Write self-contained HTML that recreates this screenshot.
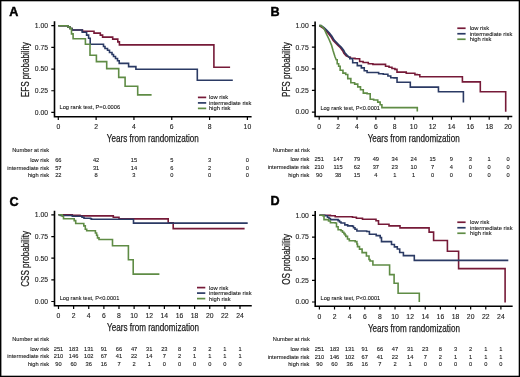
<!DOCTYPE html>
<html><head><meta charset="utf-8"><style>
html,body{margin:0;padding:0;background:#fff;}
svg{display:block;font-family:"Liberation Sans", sans-serif;}
text{stroke:#333;stroke-width:0.12px;paint-order:stroke;}
.t{stroke-width:0.25px;}
</style></head><body>
<svg width="520" height="377" viewBox="0 0 520 377">
<rect x="0" y="0" width="520" height="377" fill="#fff"/>
<path d="M54.5 21.2V116.7H251.6" fill="none" stroke="#000" stroke-width="1.6"/>
<path d="M51.3 112.4H54.5M51.3 90.73H54.5M51.3 69.05H54.5M51.3 47.38H54.5M51.3 25.7H54.5M58.3 116.7V120M96.12 116.7V120M133.94 116.7V120M171.76 116.7V120M209.58 116.7V120M247.4 116.7V120" fill="none" stroke="#000" stroke-width="1.2"/>
<path d="M197.9 97.4H206.2" stroke="#761a38" stroke-width="1.7"/>
<path d="M197.9 102.9H206.2" stroke="#2b3a64" stroke-width="1.7"/>
<path d="M197.9 108.4H206.2" stroke="#5f8c45" stroke-width="1.7"/>
<path d="M58.3,25.7 68,25.7 68,27 70,27 70,28.5 72,28.5 72,30 82.5,30 82.5,31.3 94,31.3 94,33.1 100.3,33.1 100.3,35.1 102.6,35.1 102.6,37.1 112.7,37.1 112.7,39.1 117.8,39.1 117.8,41.9 119.4,41.9 119.4,44.9 213.9,44.9 213.9,67.3 230.1,67.3" fill="none" stroke="#761a38" stroke-width="1.6" stroke-linejoin="miter"/>
<path d="M58.3,25.7 68,25.7 68,27 70,27 70,28.5 72,28.5 72,30 82.2,30 82.2,32.3 86.6,32.3 86.6,35.1 88.6,35.1 88.6,38.3 90.2,38.3 90.2,44.2 103.5,44.2 103.5,46.5 105,46.5 105,48.5 107.5,48.5 107.5,50.3 109.5,50.3 109.5,52.5 112,52.5 112,54.5 113.5,54.5 113.5,56.5 115.5,56.5 115.5,58.5 117.5,58.5 117.5,60.7 119.2,60.7 119.2,63.4 128.6,63.4 128.6,66.6 135.9,66.6 135.9,69.3 197.3,69.3 197.3,80.3 232.8,80.3" fill="none" stroke="#2b3a64" stroke-width="1.6" stroke-linejoin="miter"/>
<path d="M58.3,25.7 68,25.7 68,27 70,27 70,28.5 71.5,28.5 71.5,33.9 73.1,33.9 73.1,38.7 85.4,38.7 85.4,44.3 90,44.3 90,55.2 96.4,55.2 96.4,61.6 106.7,61.6 106.7,68.6 118.7,68.6 118.7,77.4 125.1,77.4 125.1,86.2 137.7,86.2 137.7,94.9 151.6,94.9" fill="none" stroke="#5f8c45" stroke-width="1.6" stroke-linejoin="miter"/>
<path d="M315.1 21.5V116.5H512.3" fill="none" stroke="#000" stroke-width="1.6"/>
<path d="M311.9 112.1H315.1M311.9 90.47H315.1M311.9 68.85H315.1M311.9 47.22H315.1M311.9 25.6H315.1M319.2 116.5V119.8M338.09 116.5V119.8M356.98 116.5V119.8M375.87 116.5V119.8M394.76 116.5V119.8M413.65 116.5V119.8M432.54 116.5V119.8M451.43 116.5V119.8M470.32 116.5V119.8M489.21 116.5V119.8M508.1 116.5V119.8" fill="none" stroke="#000" stroke-width="1.2"/>
<path d="M457.3 28.25H465.6" stroke="#761a38" stroke-width="1.7"/>
<path d="M457.3 33.75H465.6" stroke="#2b3a64" stroke-width="1.7"/>
<path d="M457.3 39.25H465.6" stroke="#5f8c45" stroke-width="1.7"/>
<path d="M319.2,25.6 320,26 323,28 325.6,30.4 328.4,33.4 330.9,36.7 333.2,40.5 335.6,43 338,45.4 340.4,47.8 342.8,50.9 343.9,53.2 346.2,55.8 349.2,57.3 350.35,57.3 350.35,58.3 351.5,58.3 355,58.3 355,58.7 358.5,58.7 359.65,58.7 359.65,61.5 360.8,61.5 363.1,61.5 363.1,62.5 365.4,62.5 368.3,62.5 368.3,63.8 371.2,63.8 372.9,63.8 372.9,64.4 374.6,64.4 383.8,64.4 385.55,64.4 385.55,66.2 387.3,66.2 389.05,66.2 389.05,67.3 390.8,67.3 391.95,67.3 391.95,68.5 393.1,68.5 394.9,68.5 394.9,69.4 396.7,69.4 397,69.4 397,72.1 397.3,72.1 406,72.1 406.25,72.1 406.25,73.2 406.5,73.2 414.6,73.2 414.9,73.2 414.9,74.6 415.2,74.6 417.2,74.6 417.2,74.8 419.2,74.8 419.8,74.8 419.8,76.8 420.4,76.8 462.4,76.8 462.4,81.9 480.3,81.9 480.3,91.8 505.7,91.8 505.7,111.7" fill="none" stroke="#761a38" stroke-width="1.6" stroke-linejoin="miter"/>
<path d="M319.2,25.6 321,25.6 324,27.6 326.6,30 329.4,33 331.9,36.3 334.2,40.1 336.6,42.6 339,45 341.4,47.4 343.8,50.5 344.9,52.8 347.2,55.4 349.2,57.3 349.8,57.3 349.8,58.7 350.4,58.7 352.7,58.7 352.7,62.7 355,62.7 357.3,62.7 357.3,65.6 359.6,65.6 361.35,65.6 361.35,67.9 363.1,67.9 364.25,67.9 364.25,70.8 365.4,70.8 367.1,70.8 367.1,72.5 368.8,72.5 376.9,72.5 378.65,72.5 378.65,73.7 380.4,73.7 383.3,73.7 383.3,74.2 386.2,74.2 387.9,74.2 387.9,76 389.6,76 390.75,76 390.75,77.7 391.9,77.7 394.05,77.7 394.05,77.9 396.2,77.9 397.05,77.9 397.05,82.3 397.9,82.3 410,82.3 410.3,82.3 410.3,87.1 410.6,87.1 438.3,87.1 438.45,87.1 438.45,91.8 438.6,91.8 463.4,91.8 463.4,102.6" fill="none" stroke="#2b3a64" stroke-width="1.6" stroke-linejoin="miter"/>
<path d="M319.2,25.6 321,25.6 324,28.4 326.4,33.9 329.1,39.5 331.5,45.1 333.1,50.7 334.9,56.5 336.2,59.8 337.2,59.8 337.2,63.8 338.2,63.8 338.65,63.8 338.65,66.2 339.1,66.2 340.15,66.2 340.15,70.3 341.2,70.3 342.95,70.3 342.95,73.1 344.7,73.1 345.7,73.1 345.7,74.5 346.7,74.5 347.75,74.5 347.75,78.6 348.8,78.6 350.85,78.6 350.85,82.8 352.9,82.8 354.65,82.8 354.65,84.1 356.4,84.1 357.75,84.1 357.75,86.9 359.1,86.9 360.5,86.9 360.5,89.7 361.9,89.7 363.3,89.7 363.3,93.1 364.7,93.1 367.1,93.1 367.1,93.8 369.5,93.8 370.2,93.8 370.2,99.3 370.9,99.3 373.65,99.3 373.65,100 376.4,100 377.75,100 377.75,102.1 379.1,102.1 380.15,102.1 380.15,104.8 381.2,104.8 381.9,104.8 381.9,107.6 382.6,107.6 417.3,107.6 417.3,111.5" fill="none" stroke="#5f8c45" stroke-width="1.6" stroke-linejoin="miter"/>
<path d="M54.5 210.7V305.7H251.76" fill="none" stroke="#000" stroke-width="1.6"/>
<path d="M51.3 301.5H54.5M51.3 279.85H54.5M51.3 258.2H54.5M51.3 236.55H54.5M51.3 214.9H54.5M58.5 305.7V309M73.62 305.7V309M88.75 305.7V309M103.88 305.7V309M119 305.7V309M134.12 305.7V309M149.25 305.7V309M164.38 305.7V309M179.5 305.7V309M194.62 305.7V309M209.75 305.7V309M224.88 305.7V309M240 305.7V309" fill="none" stroke="#000" stroke-width="1.2"/>
<path d="M197 287.6H205.3" stroke="#761a38" stroke-width="1.7"/>
<path d="M197 293.1H205.3" stroke="#2b3a64" stroke-width="1.7"/>
<path d="M197 298.6H205.3" stroke="#5f8c45" stroke-width="1.7"/>
<path d="M58.5,214.8 72.3,214.8 72.3,215.3 80,215.3 80,215.9 113.3,215.9 113.3,217.2 119,217.2 119,218.9 168.2,218.9 168.2,222.9 173.2,222.9 173.2,228.6 244.6,228.6" fill="none" stroke="#761a38" stroke-width="1.6" stroke-linejoin="miter"/>
<path d="M58.5,214.8 60.5,214.8 60.5,215.5 72.3,215.5 72.3,216.3 82,216.3 82,217.3 84,217.3 84,218.2 90.6,218.2 90.6,218.8 91.5,218.8 91.5,219.2 133.5,219.2 133.5,223.1 247.7,223.1" fill="none" stroke="#2b3a64" stroke-width="1.6" stroke-linejoin="miter"/>
<path d="M58.5,214.8 62.2,214.8 62.2,216.3 63.5,216.3 63.5,218.8 74.2,218.8 74.2,220.6 75.7,220.6 75.7,223.5 83.8,223.5 83.8,225.9 85.3,225.9 85.3,229.2 86.7,229.2 86.7,230.7 95.4,230.7 95.4,233 96.6,233 96.6,235.2 97.5,235.2 97.5,237.9 99,237.9 99,239.5 112.5,239.5 112.5,245.8 128.4,245.8 128.4,259.8 133.2,259.8 133.2,274.1 159.4,274.1" fill="none" stroke="#5f8c45" stroke-width="1.6" stroke-linejoin="miter"/>
<path d="M315.2 211V306.3H512.66" fill="none" stroke="#000" stroke-width="1.6"/>
<path d="M312 302H315.2M312 280.35H315.2M312 258.7H315.2M312 237.05H315.2M312 215.4H315.2M319.4 306.3V309.6M334.52 306.3V309.6M349.65 306.3V309.6M364.77 306.3V309.6M379.9 306.3V309.6M395.02 306.3V309.6M410.15 306.3V309.6M425.27 306.3V309.6M440.4 306.3V309.6M455.52 306.3V309.6M470.65 306.3V309.6M485.77 306.3V309.6M500.9 306.3V309.6" fill="none" stroke="#000" stroke-width="1.2"/>
<path d="M457.3 222.25H465.6" stroke="#761a38" stroke-width="1.7"/>
<path d="M457.3 227.75H465.6" stroke="#2b3a64" stroke-width="1.7"/>
<path d="M457.3 233.25H465.6" stroke="#5f8c45" stroke-width="1.7"/>
<path d="M319.4,215.3 330.4,215.3 330.4,215.8 335.2,215.8 335.2,216.7 352.5,216.7 352.5,217.2 356.4,217.2 356.4,218.2 362.5,218.2 362.5,219.2 376,219.2 376,220.8 378.5,220.8 378.5,224.3 389,224.3 389,225.9 400,225.9 400,227.9 429.1,227.9 429.1,232.1 433.6,232.1 433.6,240.5 447.4,240.5 447.4,251.2 458.6,251.2 458.6,268.6 505.1,268.6 505.1,302.4" fill="none" stroke="#761a38" stroke-width="1.6" stroke-linejoin="miter"/>
<path d="M319.4,215.3 324.7,215.3 324.7,215.8 327.5,215.8 327.5,217.2 329,217.2 329,218.5 330.4,218.5 330.4,219.6 338.1,219.6 338.1,220.6 339.5,220.6 339.5,222 341,222 341,223 344.8,223 344.8,224.9 347.7,224.9 347.7,225.9 352.5,225.9 352.5,226.3 353.5,226.3 353.5,227.8 355,227.8 355,229.3 356.9,229.3 356.9,231 366.7,231 366.7,231.5 369.4,231.5 369.4,234.2 376.2,234.2 376.2,235.6 380.2,235.6 380.2,237.6 381.5,237.6 381.5,241.6 391.5,241.6 391.5,244.5 394.4,244.5 394.4,246.9 397.3,246.9 397.3,249 399.7,249 399.7,252.5 403.4,252.5 403.4,255.6 414.3,255.6 414.3,260.4 508.3,260.4" fill="none" stroke="#2b3a64" stroke-width="1.6" stroke-linejoin="miter"/>
<path d="M319.4,215.3 322.7,215.3 322.7,215.8 324,215.8 324,219.6 328.5,219.6 328.5,221 330.4,221 330.4,222.8 335.2,222.8 335.2,223 336.5,223 336.5,226.8 338.1,226.8 338.1,229.7 341,229.7 341,230.7 342.5,230.7 342.5,232.2 343.9,232.2 343.9,233.6 345,233.6 345,235 345.8,235 345.8,236.4 347.5,236.4 347.5,239 349.3,239 349.3,240.7 355.2,240.7 355.2,241.6 356.9,241.6 356.9,244 357.5,244 357.5,246.6 359.5,246.6 359.5,249.1 362.1,249.1 362.1,252.6 366.4,252.6 366.4,256 369,256 369,259.5 370,259.5 370,261 372.9,261 372.9,265 389.6,265 389.6,274.6 394.1,274.6 394.1,283.2 398.1,283.2 398.1,293.2 419.3,293.2 419.3,302.1" fill="none" stroke="#5f8c45" stroke-width="1.6" stroke-linejoin="miter"/>
<rect x="0" y="0" width="520" height="1.3" fill="#000"/><rect x="0" y="375.7" width="520" height="1.3" fill="#000"/><rect x="0" y="0" width="1.4" height="377" fill="#000"/><rect x="518.7" y="0" width="1.3" height="377" fill="#000"/>
<g style="filter:grayscale(1)">
<text x="9.2" y="15.7" font-size="12.6" font-weight="bold" fill="#000" style="stroke:#000;stroke-width:0.45px">A</text>
<text x="48.1" y="114.7" font-size="6.8" text-anchor="end" fill="#1a1a1a">0.00</text>
<text x="48.1" y="93.03" font-size="6.8" text-anchor="end" fill="#1a1a1a">0.25</text>
<text x="48.1" y="71.35" font-size="6.8" text-anchor="end" fill="#1a1a1a">0.50</text>
<text x="48.1" y="49.67" font-size="6.8" text-anchor="end" fill="#1a1a1a">0.75</text>
<text x="48.1" y="28" font-size="6.8" text-anchor="end" fill="#1a1a1a">1.00</text>
<text x="58.3" y="128.9" font-size="6.8" text-anchor="middle" fill="#1a1a1a">0</text>
<text x="96.12" y="128.9" font-size="6.8" text-anchor="middle" fill="#1a1a1a">2</text>
<text x="133.94" y="128.9" font-size="6.8" text-anchor="middle" fill="#1a1a1a">4</text>
<text x="171.76" y="128.9" font-size="6.8" text-anchor="middle" fill="#1a1a1a">6</text>
<text x="209.58" y="128.9" font-size="6.8" text-anchor="middle" fill="#1a1a1a">8</text>
<text x="247.4" y="128.9" font-size="6.8" text-anchor="middle" fill="#1a1a1a">10</text>
<text x="152.85" y="142.2" font-size="10.2" text-anchor="middle" textLength="92" lengthAdjust="spacingAndGlyphs" fill="#1a1a1a" class="t">Years from randomization</text>
<text transform="translate(28.8 69.75) rotate(-90)" x="0" y="0" font-size="10.2" text-anchor="middle" textLength="54.92" lengthAdjust="spacingAndGlyphs" fill="#1a1a1a" class="t">EFS probability</text>
<text x="59.5" y="108.7" font-size="5.7" textLength="60.6" lengthAdjust="spacingAndGlyphs" fill="#1a1a1a">Log rank test, P=0.0006</text>
<text x="208.9" y="99.3" font-size="5.8" fill="#1a1a1a">low risk</text>
<text x="208.9" y="104.8" font-size="5.8" fill="#1a1a1a">intermediate risk</text>
<text x="208.9" y="110.3" font-size="5.8" fill="#1a1a1a">high risk</text>
<text x="12.2" y="152.2" font-size="5.7" fill="#1a1a1a">Number at risk</text>
<text x="49.1" y="161.8" font-size="5.7" text-anchor="end" fill="#1a1a1a">low risk</text>
<text x="58.3" y="161.8" font-size="5.7" text-anchor="middle" fill="#1a1a1a">66</text>
<text x="96.12" y="161.8" font-size="5.7" text-anchor="middle" fill="#1a1a1a">42</text>
<text x="133.94" y="161.8" font-size="5.7" text-anchor="middle" fill="#1a1a1a">15</text>
<text x="171.76" y="161.8" font-size="5.7" text-anchor="middle" fill="#1a1a1a">5</text>
<text x="209.58" y="161.8" font-size="5.7" text-anchor="middle" fill="#1a1a1a">3</text>
<text x="247.4" y="161.8" font-size="5.7" text-anchor="middle" fill="#1a1a1a">0</text>
<text x="49.1" y="169.5" font-size="5.7" text-anchor="end" fill="#1a1a1a">intermediate risk</text>
<text x="58.3" y="169.5" font-size="5.7" text-anchor="middle" fill="#1a1a1a">57</text>
<text x="96.12" y="169.5" font-size="5.7" text-anchor="middle" fill="#1a1a1a">31</text>
<text x="133.94" y="169.5" font-size="5.7" text-anchor="middle" fill="#1a1a1a">14</text>
<text x="171.76" y="169.5" font-size="5.7" text-anchor="middle" fill="#1a1a1a">6</text>
<text x="209.58" y="169.5" font-size="5.7" text-anchor="middle" fill="#1a1a1a">2</text>
<text x="247.4" y="169.5" font-size="5.7" text-anchor="middle" fill="#1a1a1a">0</text>
<text x="49.1" y="177.2" font-size="5.7" text-anchor="end" fill="#1a1a1a">high risk</text>
<text x="58.3" y="177.2" font-size="5.7" text-anchor="middle" fill="#1a1a1a">22</text>
<text x="96.12" y="177.2" font-size="5.7" text-anchor="middle" fill="#1a1a1a">8</text>
<text x="133.94" y="177.2" font-size="5.7" text-anchor="middle" fill="#1a1a1a">3</text>
<text x="171.76" y="177.2" font-size="5.7" text-anchor="middle" fill="#1a1a1a">0</text>
<text x="209.58" y="177.2" font-size="5.7" text-anchor="middle" fill="#1a1a1a">0</text>
<text x="247.4" y="177.2" font-size="5.7" text-anchor="middle" fill="#1a1a1a">0</text>
<text x="270.5" y="15.6" font-size="12.6" font-weight="bold" fill="#000" style="stroke:#000;stroke-width:0.45px">B</text>
<text x="308.7" y="114.4" font-size="6.8" text-anchor="end" fill="#1a1a1a">0.00</text>
<text x="308.7" y="92.77" font-size="6.8" text-anchor="end" fill="#1a1a1a">0.25</text>
<text x="308.7" y="71.15" font-size="6.8" text-anchor="end" fill="#1a1a1a">0.50</text>
<text x="308.7" y="49.52" font-size="6.8" text-anchor="end" fill="#1a1a1a">0.75</text>
<text x="308.7" y="27.9" font-size="6.8" text-anchor="end" fill="#1a1a1a">1.00</text>
<text x="319.2" y="128.7" font-size="6.8" text-anchor="middle" fill="#1a1a1a">0</text>
<text x="338.09" y="128.7" font-size="6.8" text-anchor="middle" fill="#1a1a1a">2</text>
<text x="356.98" y="128.7" font-size="6.8" text-anchor="middle" fill="#1a1a1a">4</text>
<text x="375.87" y="128.7" font-size="6.8" text-anchor="middle" fill="#1a1a1a">6</text>
<text x="394.76" y="128.7" font-size="6.8" text-anchor="middle" fill="#1a1a1a">8</text>
<text x="413.65" y="128.7" font-size="6.8" text-anchor="middle" fill="#1a1a1a">10</text>
<text x="432.54" y="128.7" font-size="6.8" text-anchor="middle" fill="#1a1a1a">12</text>
<text x="451.43" y="128.7" font-size="6.8" text-anchor="middle" fill="#1a1a1a">14</text>
<text x="470.32" y="128.7" font-size="6.8" text-anchor="middle" fill="#1a1a1a">16</text>
<text x="489.21" y="128.7" font-size="6.8" text-anchor="middle" fill="#1a1a1a">18</text>
<text x="508.1" y="128.7" font-size="6.8" text-anchor="middle" fill="#1a1a1a">20</text>
<text x="413.65" y="142" font-size="10.2" text-anchor="middle" textLength="92" lengthAdjust="spacingAndGlyphs" fill="#1a1a1a" class="t">Years from randomization</text>
<text transform="translate(290.1 69.55) rotate(-90)" x="0" y="0" font-size="10.2" text-anchor="middle" textLength="54.92" lengthAdjust="spacingAndGlyphs" fill="#1a1a1a" class="t">PFS probability</text>
<text x="320.4" y="110.2" font-size="5.7" textLength="59.6" lengthAdjust="spacingAndGlyphs" fill="#1a1a1a">Log rank test, P&lt;0.0001</text>
<text x="469.8" y="30.15" font-size="5.8" fill="#1a1a1a">low risk</text>
<text x="469.8" y="35.65" font-size="5.8" fill="#1a1a1a">intermediate risk</text>
<text x="469.8" y="41.15" font-size="5.8" fill="#1a1a1a">high risk</text>
<text x="272.8" y="151.7" font-size="5.7" fill="#1a1a1a">Number at risk</text>
<text x="309.4" y="161.3" font-size="5.7" text-anchor="end" fill="#1a1a1a">low risk</text>
<text x="319.2" y="161.3" font-size="5.7" text-anchor="middle" fill="#1a1a1a">251</text>
<text x="338.09" y="161.3" font-size="5.7" text-anchor="middle" fill="#1a1a1a">147</text>
<text x="356.98" y="161.3" font-size="5.7" text-anchor="middle" fill="#1a1a1a">79</text>
<text x="375.87" y="161.3" font-size="5.7" text-anchor="middle" fill="#1a1a1a">49</text>
<text x="394.76" y="161.3" font-size="5.7" text-anchor="middle" fill="#1a1a1a">34</text>
<text x="413.65" y="161.3" font-size="5.7" text-anchor="middle" fill="#1a1a1a">24</text>
<text x="432.54" y="161.3" font-size="5.7" text-anchor="middle" fill="#1a1a1a">15</text>
<text x="451.43" y="161.3" font-size="5.7" text-anchor="middle" fill="#1a1a1a">9</text>
<text x="470.32" y="161.3" font-size="5.7" text-anchor="middle" fill="#1a1a1a">3</text>
<text x="489.21" y="161.3" font-size="5.7" text-anchor="middle" fill="#1a1a1a">1</text>
<text x="508.1" y="161.3" font-size="5.7" text-anchor="middle" fill="#1a1a1a">0</text>
<text x="309.4" y="169" font-size="5.7" text-anchor="end" fill="#1a1a1a">intermediate risk</text>
<text x="319.2" y="169" font-size="5.7" text-anchor="middle" fill="#1a1a1a">210</text>
<text x="338.09" y="169" font-size="5.7" text-anchor="middle" fill="#1a1a1a">115</text>
<text x="356.98" y="169" font-size="5.7" text-anchor="middle" fill="#1a1a1a">62</text>
<text x="375.87" y="169" font-size="5.7" text-anchor="middle" fill="#1a1a1a">37</text>
<text x="394.76" y="169" font-size="5.7" text-anchor="middle" fill="#1a1a1a">23</text>
<text x="413.65" y="169" font-size="5.7" text-anchor="middle" fill="#1a1a1a">10</text>
<text x="432.54" y="169" font-size="5.7" text-anchor="middle" fill="#1a1a1a">7</text>
<text x="451.43" y="169" font-size="5.7" text-anchor="middle" fill="#1a1a1a">4</text>
<text x="470.32" y="169" font-size="5.7" text-anchor="middle" fill="#1a1a1a">0</text>
<text x="489.21" y="169" font-size="5.7" text-anchor="middle" fill="#1a1a1a">0</text>
<text x="508.1" y="169" font-size="5.7" text-anchor="middle" fill="#1a1a1a">0</text>
<text x="309.4" y="176.7" font-size="5.7" text-anchor="end" fill="#1a1a1a">high risk</text>
<text x="319.2" y="176.7" font-size="5.7" text-anchor="middle" fill="#1a1a1a">90</text>
<text x="338.09" y="176.7" font-size="5.7" text-anchor="middle" fill="#1a1a1a">38</text>
<text x="356.98" y="176.7" font-size="5.7" text-anchor="middle" fill="#1a1a1a">15</text>
<text x="375.87" y="176.7" font-size="5.7" text-anchor="middle" fill="#1a1a1a">4</text>
<text x="394.76" y="176.7" font-size="5.7" text-anchor="middle" fill="#1a1a1a">1</text>
<text x="413.65" y="176.7" font-size="5.7" text-anchor="middle" fill="#1a1a1a">1</text>
<text x="432.54" y="176.7" font-size="5.7" text-anchor="middle" fill="#1a1a1a">0</text>
<text x="451.43" y="176.7" font-size="5.7" text-anchor="middle" fill="#1a1a1a">0</text>
<text x="470.32" y="176.7" font-size="5.7" text-anchor="middle" fill="#1a1a1a">0</text>
<text x="489.21" y="176.7" font-size="5.7" text-anchor="middle" fill="#1a1a1a">0</text>
<text x="508.1" y="176.7" font-size="5.7" text-anchor="middle" fill="#1a1a1a">0</text>
<text x="9.6" y="205.5" font-size="12.6" font-weight="bold" fill="#000" style="stroke:#000;stroke-width:0.45px">C</text>
<text x="48.1" y="303.8" font-size="6.8" text-anchor="end" fill="#1a1a1a">0.00</text>
<text x="48.1" y="282.15" font-size="6.8" text-anchor="end" fill="#1a1a1a">0.25</text>
<text x="48.1" y="260.5" font-size="6.8" text-anchor="end" fill="#1a1a1a">0.50</text>
<text x="48.1" y="238.85" font-size="6.8" text-anchor="end" fill="#1a1a1a">0.75</text>
<text x="48.1" y="217.2" font-size="6.8" text-anchor="end" fill="#1a1a1a">1.00</text>
<text x="58.5" y="317.9" font-size="6.8" text-anchor="middle" fill="#1a1a1a">0</text>
<text x="73.62" y="317.9" font-size="6.8" text-anchor="middle" fill="#1a1a1a">2</text>
<text x="88.75" y="317.9" font-size="6.8" text-anchor="middle" fill="#1a1a1a">4</text>
<text x="103.88" y="317.9" font-size="6.8" text-anchor="middle" fill="#1a1a1a">6</text>
<text x="119" y="317.9" font-size="6.8" text-anchor="middle" fill="#1a1a1a">8</text>
<text x="134.12" y="317.9" font-size="6.8" text-anchor="middle" fill="#1a1a1a">10</text>
<text x="149.25" y="317.9" font-size="6.8" text-anchor="middle" fill="#1a1a1a">12</text>
<text x="164.38" y="317.9" font-size="6.8" text-anchor="middle" fill="#1a1a1a">14</text>
<text x="179.5" y="317.9" font-size="6.8" text-anchor="middle" fill="#1a1a1a">16</text>
<text x="194.62" y="317.9" font-size="6.8" text-anchor="middle" fill="#1a1a1a">18</text>
<text x="209.75" y="317.9" font-size="6.8" text-anchor="middle" fill="#1a1a1a">20</text>
<text x="224.88" y="317.9" font-size="6.8" text-anchor="middle" fill="#1a1a1a">22</text>
<text x="240" y="317.9" font-size="6.8" text-anchor="middle" fill="#1a1a1a">24</text>
<text x="153.03" y="331.2" font-size="10.2" text-anchor="middle" textLength="92" lengthAdjust="spacingAndGlyphs" fill="#1a1a1a" class="t">Years from randomization</text>
<text transform="translate(29 258.9) rotate(-90)" x="0" y="0" font-size="10.2" text-anchor="middle" textLength="55.83" lengthAdjust="spacingAndGlyphs" fill="#1a1a1a" class="t">CSS probability</text>
<text x="59.7" y="299.5" font-size="5.7" textLength="59.6" lengthAdjust="spacingAndGlyphs" fill="#1a1a1a">Log rank test, P&lt;0.0001</text>
<text x="209" y="289.5" font-size="5.8" fill="#1a1a1a">low risk</text>
<text x="209" y="295" font-size="5.8" fill="#1a1a1a">intermediate risk</text>
<text x="209" y="300.5" font-size="5.8" fill="#1a1a1a">high risk</text>
<text x="12.2" y="341.1" font-size="5.7" fill="#1a1a1a">Number at risk</text>
<text x="49.1" y="350.7" font-size="5.7" text-anchor="end" fill="#1a1a1a">low risk</text>
<text x="58.5" y="350.7" font-size="5.7" text-anchor="middle" fill="#1a1a1a">251</text>
<text x="73.62" y="350.7" font-size="5.7" text-anchor="middle" fill="#1a1a1a">183</text>
<text x="88.75" y="350.7" font-size="5.7" text-anchor="middle" fill="#1a1a1a">131</text>
<text x="103.88" y="350.7" font-size="5.7" text-anchor="middle" fill="#1a1a1a">91</text>
<text x="119" y="350.7" font-size="5.7" text-anchor="middle" fill="#1a1a1a">66</text>
<text x="134.12" y="350.7" font-size="5.7" text-anchor="middle" fill="#1a1a1a">47</text>
<text x="149.25" y="350.7" font-size="5.7" text-anchor="middle" fill="#1a1a1a">31</text>
<text x="164.38" y="350.7" font-size="5.7" text-anchor="middle" fill="#1a1a1a">23</text>
<text x="179.5" y="350.7" font-size="5.7" text-anchor="middle" fill="#1a1a1a">8</text>
<text x="194.62" y="350.7" font-size="5.7" text-anchor="middle" fill="#1a1a1a">3</text>
<text x="209.75" y="350.7" font-size="5.7" text-anchor="middle" fill="#1a1a1a">2</text>
<text x="224.88" y="350.7" font-size="5.7" text-anchor="middle" fill="#1a1a1a">1</text>
<text x="240" y="350.7" font-size="5.7" text-anchor="middle" fill="#1a1a1a">1</text>
<text x="49.1" y="358.4" font-size="5.7" text-anchor="end" fill="#1a1a1a">intermediate risk</text>
<text x="58.5" y="358.4" font-size="5.7" text-anchor="middle" fill="#1a1a1a">210</text>
<text x="73.62" y="358.4" font-size="5.7" text-anchor="middle" fill="#1a1a1a">146</text>
<text x="88.75" y="358.4" font-size="5.7" text-anchor="middle" fill="#1a1a1a">102</text>
<text x="103.88" y="358.4" font-size="5.7" text-anchor="middle" fill="#1a1a1a">67</text>
<text x="119" y="358.4" font-size="5.7" text-anchor="middle" fill="#1a1a1a">41</text>
<text x="134.12" y="358.4" font-size="5.7" text-anchor="middle" fill="#1a1a1a">22</text>
<text x="149.25" y="358.4" font-size="5.7" text-anchor="middle" fill="#1a1a1a">14</text>
<text x="164.38" y="358.4" font-size="5.7" text-anchor="middle" fill="#1a1a1a">7</text>
<text x="179.5" y="358.4" font-size="5.7" text-anchor="middle" fill="#1a1a1a">2</text>
<text x="194.62" y="358.4" font-size="5.7" text-anchor="middle" fill="#1a1a1a">1</text>
<text x="209.75" y="358.4" font-size="5.7" text-anchor="middle" fill="#1a1a1a">1</text>
<text x="224.88" y="358.4" font-size="5.7" text-anchor="middle" fill="#1a1a1a">1</text>
<text x="240" y="358.4" font-size="5.7" text-anchor="middle" fill="#1a1a1a">1</text>
<text x="49.1" y="366.1" font-size="5.7" text-anchor="end" fill="#1a1a1a">high risk</text>
<text x="58.5" y="366.1" font-size="5.7" text-anchor="middle" fill="#1a1a1a">90</text>
<text x="73.62" y="366.1" font-size="5.7" text-anchor="middle" fill="#1a1a1a">60</text>
<text x="88.75" y="366.1" font-size="5.7" text-anchor="middle" fill="#1a1a1a">36</text>
<text x="103.88" y="366.1" font-size="5.7" text-anchor="middle" fill="#1a1a1a">16</text>
<text x="119" y="366.1" font-size="5.7" text-anchor="middle" fill="#1a1a1a">7</text>
<text x="134.12" y="366.1" font-size="5.7" text-anchor="middle" fill="#1a1a1a">2</text>
<text x="149.25" y="366.1" font-size="5.7" text-anchor="middle" fill="#1a1a1a">1</text>
<text x="164.38" y="366.1" font-size="5.7" text-anchor="middle" fill="#1a1a1a">0</text>
<text x="179.5" y="366.1" font-size="5.7" text-anchor="middle" fill="#1a1a1a">0</text>
<text x="194.62" y="366.1" font-size="5.7" text-anchor="middle" fill="#1a1a1a">0</text>
<text x="209.75" y="366.1" font-size="5.7" text-anchor="middle" fill="#1a1a1a">0</text>
<text x="224.88" y="366.1" font-size="5.7" text-anchor="middle" fill="#1a1a1a">0</text>
<text x="240" y="366.1" font-size="5.7" text-anchor="middle" fill="#1a1a1a">0</text>
<text x="270.5" y="205.4" font-size="12.6" font-weight="bold" fill="#000" style="stroke:#000;stroke-width:0.45px">D</text>
<text x="308.8" y="304.3" font-size="6.8" text-anchor="end" fill="#1a1a1a">0.00</text>
<text x="308.8" y="282.65" font-size="6.8" text-anchor="end" fill="#1a1a1a">0.25</text>
<text x="308.8" y="261" font-size="6.8" text-anchor="end" fill="#1a1a1a">0.50</text>
<text x="308.8" y="239.35" font-size="6.8" text-anchor="end" fill="#1a1a1a">0.75</text>
<text x="308.8" y="217.7" font-size="6.8" text-anchor="end" fill="#1a1a1a">1.00</text>
<text x="319.4" y="318.5" font-size="6.8" text-anchor="middle" fill="#1a1a1a">0</text>
<text x="334.52" y="318.5" font-size="6.8" text-anchor="middle" fill="#1a1a1a">2</text>
<text x="349.65" y="318.5" font-size="6.8" text-anchor="middle" fill="#1a1a1a">4</text>
<text x="364.77" y="318.5" font-size="6.8" text-anchor="middle" fill="#1a1a1a">6</text>
<text x="379.9" y="318.5" font-size="6.8" text-anchor="middle" fill="#1a1a1a">8</text>
<text x="395.02" y="318.5" font-size="6.8" text-anchor="middle" fill="#1a1a1a">10</text>
<text x="410.15" y="318.5" font-size="6.8" text-anchor="middle" fill="#1a1a1a">12</text>
<text x="425.27" y="318.5" font-size="6.8" text-anchor="middle" fill="#1a1a1a">14</text>
<text x="440.4" y="318.5" font-size="6.8" text-anchor="middle" fill="#1a1a1a">16</text>
<text x="455.52" y="318.5" font-size="6.8" text-anchor="middle" fill="#1a1a1a">18</text>
<text x="470.65" y="318.5" font-size="6.8" text-anchor="middle" fill="#1a1a1a">20</text>
<text x="485.77" y="318.5" font-size="6.8" text-anchor="middle" fill="#1a1a1a">22</text>
<text x="500.9" y="318.5" font-size="6.8" text-anchor="middle" fill="#1a1a1a">24</text>
<text x="413.93" y="331.8" font-size="10.2" text-anchor="middle" textLength="92" lengthAdjust="spacingAndGlyphs" fill="#1a1a1a" class="t">Years from randomization</text>
<text transform="translate(290.3 259.4) rotate(-90)" x="0" y="0" font-size="10.2" text-anchor="middle" textLength="50.87" lengthAdjust="spacingAndGlyphs" fill="#1a1a1a" class="t">OS probability</text>
<text x="320.6" y="300.1" font-size="5.7" textLength="59.6" lengthAdjust="spacingAndGlyphs" fill="#1a1a1a">Log rank test, P&lt;0.0001</text>
<text x="470" y="224.15" font-size="5.8" fill="#1a1a1a">low risk</text>
<text x="470" y="229.65" font-size="5.8" fill="#1a1a1a">intermediate risk</text>
<text x="470" y="235.15" font-size="5.8" fill="#1a1a1a">high risk</text>
<text x="272.8" y="341.3" font-size="5.7" fill="#1a1a1a">Number at risk</text>
<text x="309.4" y="350.9" font-size="5.7" text-anchor="end" fill="#1a1a1a">low risk</text>
<text x="319.4" y="350.9" font-size="5.7" text-anchor="middle" fill="#1a1a1a">251</text>
<text x="334.52" y="350.9" font-size="5.7" text-anchor="middle" fill="#1a1a1a">183</text>
<text x="349.65" y="350.9" font-size="5.7" text-anchor="middle" fill="#1a1a1a">131</text>
<text x="364.77" y="350.9" font-size="5.7" text-anchor="middle" fill="#1a1a1a">91</text>
<text x="379.9" y="350.9" font-size="5.7" text-anchor="middle" fill="#1a1a1a">66</text>
<text x="395.02" y="350.9" font-size="5.7" text-anchor="middle" fill="#1a1a1a">47</text>
<text x="410.15" y="350.9" font-size="5.7" text-anchor="middle" fill="#1a1a1a">31</text>
<text x="425.27" y="350.9" font-size="5.7" text-anchor="middle" fill="#1a1a1a">23</text>
<text x="440.4" y="350.9" font-size="5.7" text-anchor="middle" fill="#1a1a1a">8</text>
<text x="455.52" y="350.9" font-size="5.7" text-anchor="middle" fill="#1a1a1a">3</text>
<text x="470.65" y="350.9" font-size="5.7" text-anchor="middle" fill="#1a1a1a">2</text>
<text x="485.77" y="350.9" font-size="5.7" text-anchor="middle" fill="#1a1a1a">1</text>
<text x="500.9" y="350.9" font-size="5.7" text-anchor="middle" fill="#1a1a1a">1</text>
<text x="309.4" y="358.6" font-size="5.7" text-anchor="end" fill="#1a1a1a">intermediate risk</text>
<text x="319.4" y="358.6" font-size="5.7" text-anchor="middle" fill="#1a1a1a">210</text>
<text x="334.52" y="358.6" font-size="5.7" text-anchor="middle" fill="#1a1a1a">146</text>
<text x="349.65" y="358.6" font-size="5.7" text-anchor="middle" fill="#1a1a1a">102</text>
<text x="364.77" y="358.6" font-size="5.7" text-anchor="middle" fill="#1a1a1a">67</text>
<text x="379.9" y="358.6" font-size="5.7" text-anchor="middle" fill="#1a1a1a">41</text>
<text x="395.02" y="358.6" font-size="5.7" text-anchor="middle" fill="#1a1a1a">22</text>
<text x="410.15" y="358.6" font-size="5.7" text-anchor="middle" fill="#1a1a1a">14</text>
<text x="425.27" y="358.6" font-size="5.7" text-anchor="middle" fill="#1a1a1a">7</text>
<text x="440.4" y="358.6" font-size="5.7" text-anchor="middle" fill="#1a1a1a">2</text>
<text x="455.52" y="358.6" font-size="5.7" text-anchor="middle" fill="#1a1a1a">1</text>
<text x="470.65" y="358.6" font-size="5.7" text-anchor="middle" fill="#1a1a1a">1</text>
<text x="485.77" y="358.6" font-size="5.7" text-anchor="middle" fill="#1a1a1a">1</text>
<text x="500.9" y="358.6" font-size="5.7" text-anchor="middle" fill="#1a1a1a">1</text>
<text x="309.4" y="366.3" font-size="5.7" text-anchor="end" fill="#1a1a1a">high risk</text>
<text x="319.4" y="366.3" font-size="5.7" text-anchor="middle" fill="#1a1a1a">90</text>
<text x="334.52" y="366.3" font-size="5.7" text-anchor="middle" fill="#1a1a1a">60</text>
<text x="349.65" y="366.3" font-size="5.7" text-anchor="middle" fill="#1a1a1a">36</text>
<text x="364.77" y="366.3" font-size="5.7" text-anchor="middle" fill="#1a1a1a">16</text>
<text x="379.9" y="366.3" font-size="5.7" text-anchor="middle" fill="#1a1a1a">7</text>
<text x="395.02" y="366.3" font-size="5.7" text-anchor="middle" fill="#1a1a1a">2</text>
<text x="410.15" y="366.3" font-size="5.7" text-anchor="middle" fill="#1a1a1a">1</text>
<text x="425.27" y="366.3" font-size="5.7" text-anchor="middle" fill="#1a1a1a">0</text>
<text x="440.4" y="366.3" font-size="5.7" text-anchor="middle" fill="#1a1a1a">0</text>
<text x="455.52" y="366.3" font-size="5.7" text-anchor="middle" fill="#1a1a1a">0</text>
<text x="470.65" y="366.3" font-size="5.7" text-anchor="middle" fill="#1a1a1a">0</text>
<text x="485.77" y="366.3" font-size="5.7" text-anchor="middle" fill="#1a1a1a">0</text>
<text x="500.9" y="366.3" font-size="5.7" text-anchor="middle" fill="#1a1a1a">0</text>
</g>
</svg>
</body></html>
